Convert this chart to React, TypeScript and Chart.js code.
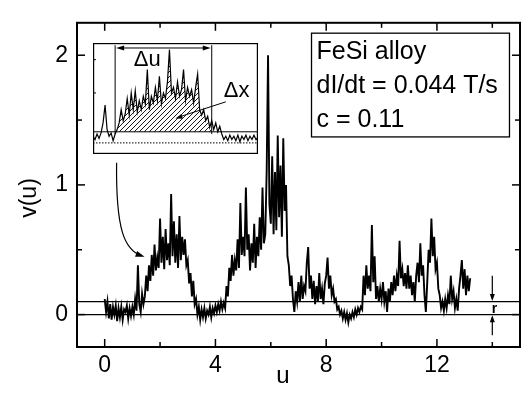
import React, { useEffect, useRef } from 'react';
import { Chart, registerables } from 'chart.js';

Chart.register(...registerables);

const FONT = '"Liberation Sans", Arial, Helvetica, sans-serif';

// ---- main trace: v(u) sampled every U_STEP starting at U_START ----
const U_START = 0;
const U_STEP = 0.05;
const V_VALUES = [
  0.12, 0.02, 0.10, -0.03, 0.08, -0.04, 0.06, 0.00, 0.07, -0.05, 0.05, -0.02, 0.06, -0.04, 0.04, 0.02, 0.07, -0.03, 0.05, -0.01,
  0.06, 0.00, 0.12, 0.03, 0.38, 0.08, 0.02, 0.16, 0.08, 0.14, 0.30, 0.18, 0.38, 0.26, 0.46, 0.30, 0.54, 0.34, 0.44, 0.36,
  0.74, 0.40, 0.60, 0.35, 0.66, 0.42, 0.55, 0.38, 0.93, 0.45, 0.72, 0.40, 0.62, 0.36, 0.76, 0.42, 0.60, 0.46, 0.58, 0.38,
  0.42, 0.24, 0.32, 0.14, 0.26, 0.08, 0.12, 0.00, 0.06, -0.04, 0.04, -0.02, 0.05, -0.03, 0.03, 0.00, 0.06, -0.02, 0.05, 0.01,
  0.07, 0.02, 0.08, 0.03, 0.10, 0.04, 0.09, 0.05, 0.22, 0.14, 0.36, 0.26, 0.46, 0.30, 0.42, 0.34, 0.58, 0.36, 0.86, 0.46,
  0.60, 0.45, 0.98, 0.50, 0.62, 0.34, 0.55, 0.40, 0.70, 0.36, 0.60, 0.45, 0.75, 0.50, 0.98, 0.55, 0.62, 1.10, 2.00, 0.85,
  0.70, 1.22, 0.62, 1.10, 0.65, 1.38, 0.75, 1.15, 0.60, 1.36, 0.80, 1.00, 0.45, 0.38, 0.22, 0.30, 0.12, 0.02, 0.18, 0.10,
  0.25, 0.10, 0.30, 0.12, 0.22, 0.18, 0.40, 0.52, 0.20, 0.30, 0.12, 0.26, 0.08, 0.22, 0.10, 0.32, 0.12, 0.20, 0.08, 0.24,
  0.30, 0.44, 0.20, 0.30, 0.15, 0.20, 0.10, 0.12, 0.04, 0.06, 0.00, 0.03, -0.03, 0.02, -0.04, 0.01, -0.06, 0.00, -0.03, 0.02,
  -0.02, 0.04, 0.00, 0.05, 0.02, 0.06, 0.04, 0.30, 0.15, 0.38, 0.20, 0.30, 0.18, 0.69, 0.25, 0.45, 0.12, 0.22, 0.10, 0.20,
  0.12, 0.25, 0.10, 0.18, 0.02, 0.20, 0.10, 0.25, 0.15, 0.30, 0.18, 0.30, 0.22, 0.57, 0.28, 0.35, 0.22, 0.32, 0.20, 0.38,
  0.20, 0.30, 0.15, 0.25, 0.10, 0.30, 0.40, 0.25, 0.55, 0.30, 0.38, 0.15, 0.02, 0.25, 0.50, 0.40, 0.74, 0.45, 0.60, 0.35,
  0.40, 0.20, 0.15, 0.05, 0.10, 0.03, 0.12, 0.05, 0.15, 0.08, 0.30, 0.12, 0.18, 0.05, 0.12, 0.03, 0.20, 0.30, 0.42, 0.20,
  0.35, 0.15, 0.30, 0.18, 0.28,
];

const R_LEVEL = 0.1;
const ZERO_LEVEL = 0;
const X_MIN = -1;
const X_MAX = 15;
const Y_MIN = -0.25;
const Y_MAX = 2.25;
const X_TICKS = [0, 4, 8, 12];
const X_MINOR = [2, 6, 10, 14];
const Y_TICKS = [0, 1, 2];
const Y_MINOR = [0.5, 1.5];
const X_TITLE = 'u';
const Y_TITLE = 'v(u)';
const LEGEND_LINES = ['FeSi alloy', 'dI/dt = 0.044 T/s', 'c = 0.11'];
const R_LABEL = 'r';
const R_ARROW_U = 14;

// ---- inset: zoom of one avalanche ----
const INSET_X_START = 0;
const INSET_X_STEP = 0.1;
const INSET_VALUES = [
  0.06, 0.03, 0.08, 0.04, 0.09, 0.18, 0.34, 0.12, 0.06, 0.09,
  0.02, 0.08, 0.12, 0.18, 0.30, 0.20, 0.26, 0.40, 0.25, 0.45,
  0.30, 0.47, 0.28, 0.38, 0.30, 0.42, 0.35, 0.66, 0.30, 0.42,
  0.36, 0.50, 0.38, 0.60, 0.35, 0.45, 0.40, 0.55, 0.84, 0.45,
  0.50, 0.40, 0.55, 0.42, 0.48, 0.66, 0.38, 0.50, 0.42, 0.48,
  0.36, 0.50, 0.62, 0.30, 0.25, 0.30, 0.20, 0.24, 0.14, 0.20,
  0.12, 0.18, 0.10, 0.15, 0.08, 0.03, 0.06, 0.02, 0.07, 0.03,
  0.06, 0.02, 0.07, 0.01, 0.06, 0.03, 0.07, 0.02, 0.06, 0.03,
  0.07, 0.03, 0.05,
];
const INSET_X_MIN = 0;
const INSET_X_MAX = 8.2;
const INSET_Y_MIN = -0.1;
const INSET_Y_MAX = 0.9;
const INSET_R = 0.1;
const INSET_DU = [1.1, 5.9];
const INSET_DU_LABEL = 'Δu';
const INSET_DX_LABEL = 'Δx';

function arrowHead(ctx: CanvasRenderingContext2D, tx: number, ty: number, fx: number, fy: number, len: number, half: number) {
  const a = Math.atan2(ty - fy, tx - fx);
  const c = Math.cos(a), s = Math.sin(a);
  ctx.beginPath();
  ctx.moveTo(tx, ty);
  ctx.lineTo(tx - len * c + half * s, ty - len * s - half * c);
  ctx.lineTo(tx - len * c - half * s, ty - len * s + half * c);
  ctx.closePath();
  ctx.fill();
}

const mainDecor = {
  id: 'mainDecor',
  afterDraw(chart: any) {
    const { ctx, chartArea: a, scales } = chart;
    const xs = scales.x, ys = scales.y;
    const X = (v: number) => xs.getPixelForValue(v);
    const Y = (v: number) => ys.getPixelForValue(v);
    ctx.save();
    ctx.strokeStyle = '#000';
    ctx.fillStyle = '#000';
    // frame
    ctx.lineWidth = 2;
    ctx.strokeRect(a.left, a.top, a.right - a.left, a.bottom - a.top);
    // inward ticks on all sides
    ctx.lineWidth = 1.5;
    const tick = (x1: number, y1: number, x2: number, y2: number) => {
      ctx.beginPath(); ctx.moveTo(x1, y1); ctx.lineTo(x2, y2); ctx.stroke();
    };
    X_TICKS.forEach(v => { const p = X(v); tick(p, a.bottom, p, a.bottom - 8); tick(p, a.top, p, a.top + 8); });
    X_MINOR.forEach(v => { const p = X(v); tick(p, a.bottom, p, a.bottom - 5); tick(p, a.top, p, a.top + 5); });
    Y_TICKS.forEach(v => { const p = Y(v); tick(a.left, p, a.left + 8, p); tick(a.right, p, a.right - 8, p); });
    Y_MINOR.forEach(v => { const p = Y(v); tick(a.left, p, a.left + 5, p); tick(a.right, p, a.right - 5, p); });

    // axis titles
    ctx.font = `24px ${FONT}`;
    ctx.textAlign = 'center';
    ctx.textBaseline = 'alphabetic';
    ctx.fillText(X_TITLE, 283, 383);
    ctx.save();
    ctx.translate(36, 198);
    ctx.rotate(-Math.PI / 2);
    ctx.font = `23px ${FONT}`;
    ctx.fillText(Y_TITLE, 0, 0);
    ctx.restore();

    // legend box
    ctx.lineWidth = 1.3;
    const bx1 = X(7.47), bx2 = X(14.62), by1 = Y(2.17), by2 = Y(1.37);
    ctx.strokeRect(bx1, by1, bx2 - bx1, by2 - by1);
    ctx.font = `25px ${FONT}`;
    ctx.textAlign = 'left';
    const baselines = [1.97, 1.71, 1.444];
    LEGEND_LINES.forEach((t, i) => ctx.fillText(t, X(7.65), Y(baselines[i])));

    // r arrows
    ctx.lineWidth = 1.2;
    const ax = X(R_ARROW_U);
    tick(ax, Y(0.30), ax, Y(0.12));
    arrowHead(ctx, ax, Y(0.105), ax, Y(0.3), 7, 2.5);
    tick(ax, Y(-0.16), ax, Y(-0.02));
    arrowHead(ctx, ax, Y(-0.005), ax, Y(-0.16), 7, 2.5);
    ctx.font = `bold 14px ${FONT}`;
    ctx.fillText(R_LABEL, ax - 0.5, Y(0.0) - 1.5);

    // curved arrow from inset to first avalanche
    ctx.lineWidth = 1.2;
    const p0 = [X(0.43), Y(1.17)], p1 = [X(0.40), Y(0.65)], p2 = [X(0.72), Y(0.50)], p3 = [X(1.44), Y(0.445)];
    ctx.beginPath();
    ctx.moveTo(p0[0], p0[1]);
    ctx.bezierCurveTo(p1[0], p1[1], p2[0], p2[1], p3[0] - 3, p3[1] - 1);
    ctx.stroke();
    arrowHead(ctx, p3[0], p3[1], p2[0], p2[1], 9, 3);
    ctx.restore();
  },
};

const insetDecor = {
  id: 'insetDecor',
  afterDraw(chart: any) {
    const { ctx, scales } = chart;
    const xs = scales.x, ys = scales.y;
    const X = (v: number) => xs.getPixelForValue(v);
    const Y = (v: number) => ys.getPixelForValue(v);
    const w = chart.width, h = chart.height;
    ctx.save();
    ctx.strokeStyle = '#000';
    ctx.fillStyle = '#000';
    ctx.lineWidth = 1.2;
    ctx.strokeRect(0.6, 0.6, w - 1.2, h - 1.2);
    ctx.lineWidth = 1;
    const line = (x1: number, y1: number, x2: number, y2: number) => {
      ctx.beginPath(); ctx.moveTo(x1, y1); ctx.lineTo(x2, y2); ctx.stroke();
    };
    [0.45, 0.75].forEach(v => line(0, Y(v), 3, Y(v)));
    // Δu boundaries
    INSET_DU.forEach(v => line(X(v), Y(INSET_R - 0.02), X(v), Y(INSET_Y_MAX - 0.02)));
    // Δu double arrow
    const ay = Y(0.855);
    line(X(INSET_DU[0]) + 4, ay, X(INSET_DU[1]) - 4, ay);
    arrowHead(ctx, X(INSET_DU[0]) + 1, ay, X(INSET_DU[1]), ay, 8, 2.5);
    arrowHead(ctx, X(INSET_DU[1]) - 1, ay, X(INSET_DU[0]), ay, 8, 2.5);
    ctx.font = `22px ${FONT}`;
    ctx.textAlign = 'center';
    ctx.textBaseline = 'alphabetic';
    ctx.fillText(INSET_DU_LABEL, X(2.7), Y(0.69));
    ctx.textAlign = 'left';
    ctx.fillText(INSET_DX_LABEL, X(6.5), Y(0.41));
    // Δx arrow
    line(X(6.6), Y(0.37), X(4.3), Y(0.235));
    arrowHead(ctx, X(4.1), Y(0.22), X(6.6), Y(0.37), 7, 2.5);
    ctx.restore();
  },
};

function makeHatch(): CanvasPattern | string {
  const c = document.createElement('canvas');
  c.width = 5; c.height = 5;
  const g = c.getContext('2d');
  if (!g) return 'rgba(0,0,0,0.3)';
  g.strokeStyle = '#000';
  g.lineWidth = 0.9;
  g.beginPath();
  g.moveTo(-1, 6); g.lineTo(6, -1);
  g.moveTo(-1, 1); g.lineTo(1, -1);
  g.moveTo(4, 6); g.lineTo(6, 4);
  g.stroke();
  return g.createPattern(c, 'repeat') || 'rgba(0,0,0,0.3)';
}

export default function App() {
  const mainRef = useRef<HTMLCanvasElement | null>(null);
  const insetRef = useRef<HTMLCanvasElement | null>(null);

  useEffect(() => {
    if (!mainRef.current || !insetRef.current) return;
    const trace = V_VALUES.map((v, i) => ({ x: U_START + i * U_STEP, y: v }));
    const hline = (lvl: number) => [{ x: X_MIN, y: lvl }, { x: X_MAX, y: lvl }];

    const main = new Chart(mainRef.current, {
      type: 'line',
      data: {
        datasets: [
          { data: hline(ZERO_LEVEL), borderColor: '#000', borderWidth: 1.2, pointRadius: 0 },
          { data: hline(R_LEVEL), borderColor: '#000', borderWidth: 1.2, pointRadius: 0 },
          { data: trace, borderColor: '#000', borderWidth: 1.9, pointRadius: 0, tension: 0 },
        ],
      } as any,
      options: {
        responsive: false,
        animation: false,
        devicePixelRatio: 1,
        layout: { padding: { top: 8, right: 5, left: 0, bottom: 0 } },
        plugins: { legend: { display: false }, tooltip: { enabled: false } },
        scales: {
          x: {
            type: 'linear', min: X_MIN, max: X_MAX,
            grid: { display: false, drawTicks: false },
            border: { display: false },
            afterBuildTicks: (s: any) => { s.ticks = X_TICKS.map(v => ({ value: v })); },
            afterFit: (s: any) => { s.height = 46; },
            ticks: { color: '#000', font: { family: FONT, size: 23 }, padding: 5, maxRotation: 0, autoSkip: false },
          },
          y: {
            type: 'linear', min: Y_MIN, max: Y_MAX,
            grid: { display: false, drawTicks: false },
            border: { display: false },
            afterBuildTicks: (s: any) => { s.ticks = Y_TICKS.map(v => ({ value: v })); },
            afterFit: (s: any) => { s.width = 77; },
            ticks: { color: '#000', font: { family: FONT, size: 23 }, padding: 9, autoSkip: false },
          },
        },
      } as any,
      plugins: [mainDecor],
    });

    const insetTrace = INSET_VALUES.map((v, i) => ({ x: INSET_X_START + i * INSET_X_STEP, y: v }));
    const hatchPts = insetTrace.filter(p => p.x >= INSET_DU[0] - 1e-9 && p.x <= INSET_DU[1] + 1e-9);
    const inset = new Chart(insetRef.current, {
      type: 'line',
      data: {
        datasets: [
          { data: hatchPts, borderWidth: 0, pointRadius: 0, fill: { value: INSET_R }, backgroundColor: makeHatch() },
          { data: [{ x: INSET_X_MIN, y: INSET_R }, { x: INSET_X_MAX, y: INSET_R }], borderColor: '#000', borderWidth: 1, pointRadius: 0 },
          { data: [{ x: INSET_X_MIN, y: 0 }, { x: INSET_X_MAX, y: 0 }], borderColor: '#000', borderWidth: 1, borderDash: [1.5, 1.5], pointRadius: 0 },
          { data: insetTrace, borderColor: '#000', borderWidth: 1.2, pointRadius: 0, tension: 0 },
        ],
      } as any,
      options: {
        responsive: false,
        animation: false,
        devicePixelRatio: 1,
        layout: { padding: 0 },
        plugins: { legend: { display: false }, tooltip: { enabled: false } },
        scales: {
          x: { type: 'linear', display: false, min: INSET_X_MIN, max: INSET_X_MAX },
          y: { type: 'linear', display: false, min: INSET_Y_MIN, max: INSET_Y_MAX },
        },
      } as any,
      plugins: [insetDecor],
    });

    return () => { main.destroy(); inset.destroy(); };
  }, []);

  return (
    <div style={{ position: 'absolute', left: 0, top: 0, width: 525, height: 393, background: '#fff' }}>
      <canvas ref={mainRef} width={525} height={393} style={{ position: 'absolute', left: 0, top: 0 }} />
      <canvas ref={insetRef} width={165} height={111} style={{ position: 'absolute', left: 93, top: 43, background: '#fff' }} />
    </div>
  );
}
